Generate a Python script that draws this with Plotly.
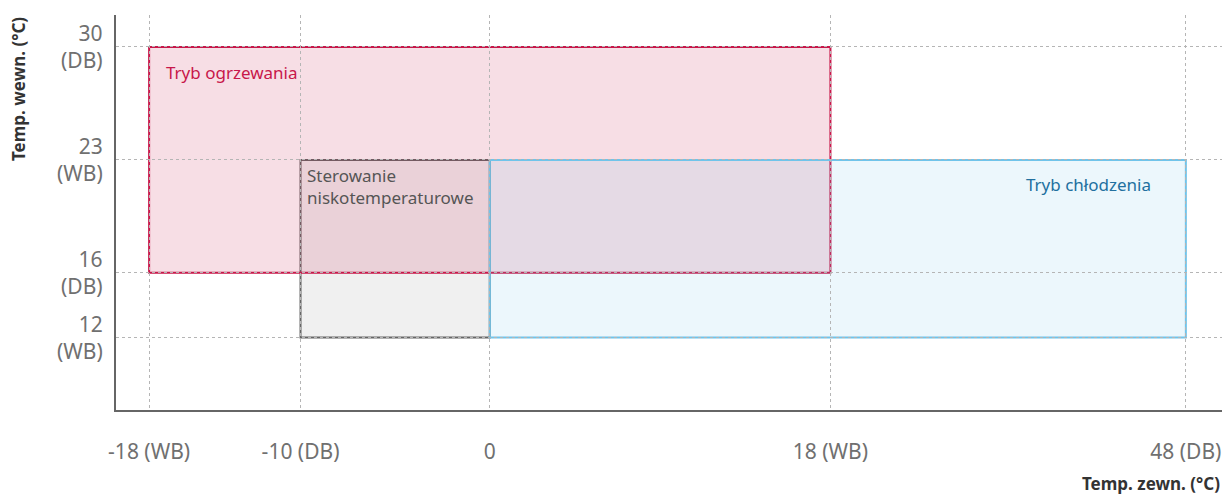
import plotly.graph_objects as go

# Operating ranges (outdoor temp x, indoor temp y)
modes = ['Tryb ogrzewania', 'Sterowanie<br>niskotemperaturowe', 'Tryb chłodzenia']
x_from = [-18, -10, 0]
x_to = [18, 0, 48]
y_from = [16, 12, 12]
y_to = [30, 23, 23]

x_ticks = [-18, -10, 0, 18, 48]
x_tick_labels = ['-18 (WB)', '-10 (DB)', '0', '18 (WB)', '48 (DB)']
y_ticks = [30, 23, 16, 12]
y_tick_labels = ['30<br>(DB)', '23<br>(WB)', '16<br>(DB)', '12<br>(WB)']

FONT = 'Noto Sans, Open Sans, sans-serif'
STYLES = [
    {'fill': 'rgba(200,23,74,0.14)', 'line': '#c8174a', 'text': '#c8174a'},
    {'fill': 'rgba(90,90,90,0.09)', 'line': '#666666', 'text': '#555555'},
    {'fill': 'rgba(110,196,234,0.13)', 'line': '#70c4ea', 'text': '#22709f'},
]
TICK_FONT = dict(size=21, color='#707070', family=FONT)


def xpos(v):
    # axis is compressed past 18 (broken scale in the source chart)
    return v if v <= 18 else 18 + (v - 18) * 0.626


fig = go.Figure()
# invisible trace so the axes exist
fig.add_trace(go.Scatter(x=[xpos(v) for v in x_ticks], y=[y_ticks[0]] * len(x_ticks),
                         mode='markers', marker_opacity=0, hoverinfo='skip', showlegend=False))

draw_order = [1, 0, 2]
for i in draw_order:
    s = STYLES[i]
    fig.add_shape(type='rect', layer='below',
                  x0=xpos(x_from[i]), x1=xpos(x_to[i]), y0=y_from[i], y1=y_to[i],
                  fillcolor=s['fill'], line=dict(color=s['line'], width=2))

# labels
fig.add_annotation(x=xpos(x_from[0]), y=y_to[0], text=modes[0], showarrow=False,
                   xanchor='left', yanchor='top', xshift=15, yshift=-12,
                   font=dict(size=17, color=STYLES[0]['text'], family=FONT))
fig.add_annotation(x=xpos(x_from[1]), y=y_to[1], text=modes[1], showarrow=False,
                   xanchor='left', yanchor='top', xshift=4, yshift=-2, align='left',
                   font=dict(size=17, color=STYLES[1]['text'], family=FONT))
fig.add_annotation(x=xpos(x_to[2]), y=y_to[2], text=modes[2], showarrow=False,
                   xanchor='right', yanchor='top', xshift=-33, yshift=-11,
                   font=dict(size=17, color=STYLES[2]['text'], family=FONT))

# y tick labels, right aligned
for v, t in zip(y_ticks, y_tick_labels):
    fig.add_annotation(x=0, xref='paper', y=v, text=t, showarrow=False,
                       xanchor='right', yanchor='middle', align='right', xshift=-11,
                       font=TICK_FONT)

# axis titles
fig.add_annotation(x=0, xref='paper', y=1, yref='paper', text='<b>Temp. wewn. (°C)</b>',
                   textangle=-90, showarrow=False, xanchor='center', yanchor='top',
                   xshift=-98, yshift=0,
                   font=dict(size=17, color='#333333', family=FONT))
fig.add_annotation(x=1, xref='paper', y=0, yref='paper', text='<b>Temp. zewn. (°C)</b>',
                   showarrow=False, xanchor='right', yanchor='middle', yshift=-73,
                   font=dict(size=17, color='#333333', family=FONT))

grid = dict(showgrid=True, gridcolor='#b5b5b5', griddash='dot', gridwidth=1,
            zeroline=False, showline=True, linecolor='#666666', linewidth=1.5,
            ticks='', automargin=False)

fig.update_xaxes(range=[-19.75, 38.69], tickmode='array',
                 tickvals=[xpos(v) for v in x_ticks], ticktext=x_tick_labels,
                 ticklabelstandoff=22, tickfont=TICK_FONT, **grid)
fig.update_yaxes(range=[7.5, 31.98], tickmode='array',
                 tickvals=y_ticks, showticklabels=False, **grid)

fig.update_layout(
    width=1224, height=495,
    margin=dict(l=116, r=2, t=15, b=85),
    plot_bgcolor='white', paper_bgcolor='white',
    font=dict(family=FONT),
    showlegend=False,
)

# drop the default body margin so the figure fills the window exactly
fig.write_html('out.html', config={'displayModeBar': False},
               post_script="document.body.style.margin='0';")
